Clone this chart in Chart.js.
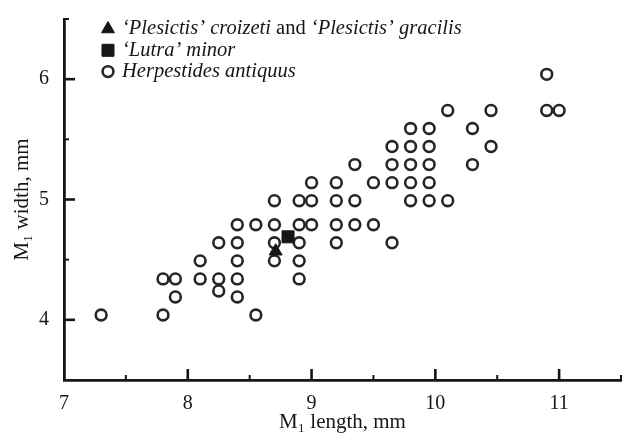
<!DOCTYPE html>
<html>
<head>
<meta charset="utf-8">
<script src="https://cdn.jsdelivr.net/npm/chart.js@4.4.0/dist/chart.umd.min.js"></script>
<style>
  html, body { margin: 0; padding: 0; background: #fff; }
  #wrap { width: 626px; height: 437px; }
</style>
</head>
<body>
<div id="wrap"><canvas id="chart" width="626" height="437"></canvas></div>
<script>
// ==== M1 measurements (length, width in mm) ====
const herpLength = [
  7.3, 7.8, 8.55,
  7.9, 8.4,
  8.25,
  7.8, 7.9, 8.1, 8.25, 8.4, 8.9,
  8.1, 8.4, 8.7, 8.9,
  8.25, 8.4, 8.7, 8.9, 9.2, 9.65,
  8.4, 8.55, 8.7, 8.9, 9.0, 9.2, 9.35, 9.5,
  8.7, 8.9, 9.0, 9.2, 9.35, 9.8, 9.95, 10.1,
  9.0, 9.2, 9.5, 9.65, 9.8, 9.95,
  9.35, 9.65, 9.8, 9.95, 10.3,
  9.65, 9.8, 9.95, 10.45,
  9.8, 9.95, 10.3,
  10.1, 10.45, 10.9, 11.0,
  10.9
];
const herpWidth = [
  4.04, 4.04, 4.04,
  4.19, 4.19,
  4.24,
  4.34, 4.34, 4.34, 4.34, 4.34, 4.34,
  4.49, 4.49, 4.49, 4.49,
  4.64, 4.64, 4.64, 4.64, 4.64, 4.64,
  4.79, 4.79, 4.79, 4.79, 4.79, 4.79, 4.79, 4.79,
  4.99, 4.99, 4.99, 4.99, 4.99, 4.99, 4.99, 4.99,
  5.14, 5.14, 5.14, 5.14, 5.14, 5.14,
  5.29, 5.29, 5.29, 5.29, 5.29,
  5.44, 5.44, 5.44, 5.44,
  5.59, 5.59, 5.59,
  5.74, 5.74, 5.74, 5.74,
  6.04
];
const plesLength = [8.71];
const plesWidth = [4.57];
const lutraLength = [8.81];
const lutraWidth = [4.69];

const xMajor = [7, 8, 9, 10, 11];
const yMajor = [4, 5, 6];

// legend lines: [text, italic?]
const legendRuns = [
  [['\u2018Plesictis\u2019 croizeti', true], [' and ', false], ['\u2018Plesictis\u2019 gracilis', true]],
  [['\u2018Lutra\u2019 minor', true]],
  [['Herpestides antiquus', true]]
];

const ink = '#161616';
const serif = '"Liberation Serif", "Times New Roman", serif';

const toPoints = (xs, ys) => xs.map((v, i) => ({ x: v, y: ys[i] }));

// ==== inward tick marks ====
const axisTicks = {
  id: 'axisTicks',
  afterDraw(chart) {
    const { ctx, chartArea: a, scales: { x, y } } = chart;
    ctx.save();
    ctx.strokeStyle = ink;
    x.ticks.forEach(t => {
      if (t.value <= x.min) return;
      const px = x.getPixelForValue(t.value);
      const major = xMajor.includes(t.value);
      ctx.lineWidth = major ? 2.6 : 2;
      ctx.beginPath();
      ctx.moveTo(px, a.bottom);
      ctx.lineTo(px, a.bottom - (major ? 11 : 5));
      ctx.stroke();
    });
    y.ticks.forEach(t => {
      if (t.value <= y.min) return;
      const py = y.getPixelForValue(t.value);
      const major = yMajor.includes(t.value);
      ctx.lineWidth = major ? 2.6 : 2;
      ctx.beginPath();
      ctx.moveTo(a.left, py);
      ctx.lineTo(a.left + (major ? 11 : 5), py);
      ctx.stroke();
    });
    ctx.restore();
  }
};

// ==== legend with mixed italic / upright text ====
const legendBox = {
  id: 'legendBox',
  afterDraw(chart) {
    const { ctx, chartArea: a } = chart;
    const mx = a.left + 44, tx = a.left + 58;
    const top = a.top + 10, lh = 21.3;
    ctx.save();
    ctx.textBaseline = 'middle';
    chart.data.datasets.forEach((ds, i) => {
      const cy = top + i * lh;
      ctx.fillStyle = ds.backgroundColor;
      ctx.strokeStyle = ds.borderColor;
      ctx.lineWidth = ds.borderWidth;
      Chart.helpers.drawPoint(ctx, {
        pointStyle: ds.pointStyle, radius: ds.pointRadius, rotation: 0, borderWidth: ds.borderWidth
      }, mx, cy);
      let cx = tx;
      ctx.fillStyle = ink;
      legendRuns[i].forEach(([text, italic]) => {
        ctx.font = (italic ? 'italic ' : '') + '20.5px ' + serif;
        ctx.fillText(text, cx, cy);
        cx += ctx.measureText(text).width;
      });
    });
    ctx.restore();
  }
};

new Chart(document.getElementById('chart'), {
  type: 'scatter',
  data: {
    datasets: [
      {
        label: 'Plesictis croizeti and Plesictis gracilis',
        data: toPoints(plesLength, plesWidth),
        pointStyle: 'triangle',
        pointRadius: 7.5,
        borderWidth: 1,
        backgroundColor: ink,
        borderColor: ink,
        order: 1
      },
      {
        label: 'Lutra minor',
        data: toPoints(lutraLength, lutraWidth),
        pointStyle: 'rect',
        pointRadius: 8.5,
        borderWidth: 1,
        backgroundColor: ink,
        borderColor: ink,
        order: 1
      },
      {
        label: 'Herpestides antiquus',
        data: toPoints(herpLength, herpWidth),
        pointStyle: 'circle',
        pointRadius: 5.4,
        borderWidth: 2.6,
        backgroundColor: 'rgba(0,0,0,0)',
        borderColor: '#262626',
        order: 3
      }
    ]
  },
  options: {
    responsive: false,
    animation: false,
    layout: { autoPadding: false, padding: { top: 12, right: 5, left: 0, bottom: 0 } },
    plugins: { legend: { display: false }, tooltip: { enabled: false } },
    scales: {
      x: {
        type: 'linear',
        min: 7, max: 11.5,
        afterFit: s => { s.height = 57; },
        grid: { display: false },
        border: { display: true, width: 2.8, color: ink },
        ticks: {
          stepSize: 0.5, autoSkip: false, maxRotation: 0, padding: 4,
          color: ink, font: { family: serif, size: 20 },
          callback: v => xMajor.includes(v) ? String(v) : ''
        },
        title: {
          display: true, text: 'M\u2081 length, mm', color: ink,
          font: { family: serif, size: 21 }, padding: { top: 0, bottom: 2 }
        }
      },
      y: {
        type: 'linear',
        min: 3.5, max: 6.5,
        afterFit: s => { s.width = 64; },
        grid: { display: false },
        border: { display: true, width: 2.8, color: ink },
        ticks: {
          stepSize: 0.5, autoSkip: false, padding: 7,
          color: ink, font: { family: serif, size: 20 },
          callback: v => yMajor.includes(v) ? String(v) : ''
        },
        title: {
          display: true, text: 'M\u2081 width, mm', color: ink,
          font: { family: serif, size: 21 }, padding: { top: 10, bottom: 0 }
        }
      }
    }
  },
  plugins: [axisTicks, legendBox]
});
</script>
</body>
</html>
